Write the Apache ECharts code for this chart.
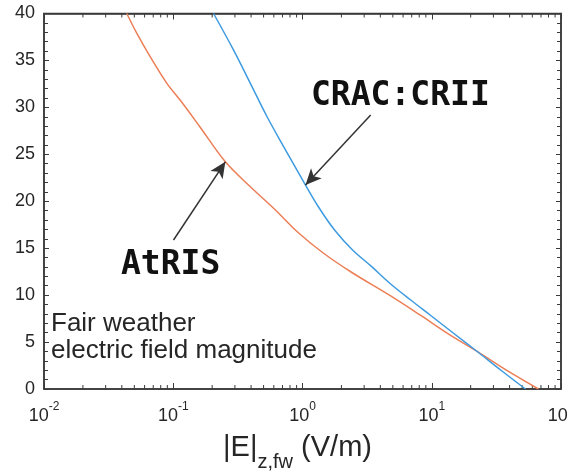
<!DOCTYPE html>
<html>
<head>
<meta charset="utf-8">
<script src="https://cdn.jsdelivr.net/npm/echarts@6/dist/echarts.min.js"></script>
<style>
  html, body { margin: 0; padding: 0; background: #fff; }
  #chart { width: 567px; height: 473px; }
</style>
</head>
<body>
<div id="chart"></div>
<script>
// AtRIS profile: altitude (km) and fair-weather field magnitude (V/m)
const atrisAlt = [40.0, 37.88, 35.4, 32.56, 30.78, 28.02, 24.2, 21.54, 19.07, 16.72, 14.54, 12.49, 9.91, 7.83, 5.70, 3.97, 1.98, 0];
const atrisE   = [0.0437, 0.0523, 0.0663, 0.0893, 0.113, 0.159, 0.253, 0.395, 0.617, 0.915, 1.43, 2.36, 4.81, 8.22, 14.0, 22.6, 38.1, 66.9];

// CRAC:CRII profile
const cracAlt = [40.0, 36.1, 32.56, 29.0, 25.8, 21.73, 19.39, 16.94, 14.81, 13.03, 11.19, 9.48, 7.83, 6.18, 3.97, 2.0, 0];
const cracE   = [0.205, 0.293, 0.395, 0.532, 0.716, 1.055, 1.33, 1.77, 2.44, 3.43, 4.81, 6.87, 9.82, 14.0, 22.6, 34.3, 53.1];

// Axis ranges and tick values
const xMin = 0.01, xMax = 100;
const yMin = 0, yMax = 40, yStep = 5;
const xDecades = [0.01, 0.1, 1, 10];
const minorMultipliers = [2, 3, 4, 5, 6, 7, 8, 9];

// Annotation arrows: [tail, head] in data coordinates
const cracArrow = [[3.37, 29.18], [1.055, 21.73]];
const atrisArrow = [[0.1005, 15.87], [0.253, 24.2]];

const pairs = (xs, ys) => xs.map((x, i) => [x, ys[i]]);
const xMinorTicks = [];
xDecades.forEach(d => minorMultipliers.forEach(m => xMinorTicks.push([d * m, yMin])));

const frameColor = '#3a3a3a';
const textColor = '#262626';
const sans = '"Liberation Sans", Arial, sans-serif';
const mono = '"DejaVu Sans Mono", monospace';
const tickStyle = { stroke: frameColor, lineWidth: 1 };

const chart = echarts.init(document.getElementById('chart'));

const textGraphics = [
  { type: 'text', left: 311, top: 80, style: { text: 'CRAC:CRII', font: 'bold 33px ' + mono, fill: '#111111' } },
  { type: 'text', left: 121, top: 249, style: { text: 'AtRIS', font: 'bold 33px ' + mono, fill: '#111111' } },
  { type: 'text', left: 51, top: 311, style: { text: 'Fair weather', font: '26px ' + sans, fill: textColor } },
  { type: 'text', left: 51, top: 338, style: { text: 'electric field magnitude', font: '26px ' + sans, fill: textColor } }
];

const xAxisLine = { show: true, lineStyle: { color: frameColor, width: 1.5 } };
const yTick = { show: true, inside: true, length: 5, lineStyle: { color: frameColor, width: 1 } };
const yMinor = { show: true, splitNumber: 5, length: 4, lineStyle: { color: frameColor, width: 1 } };

const option = {
  animation: false,
  grid: {
    left: 44, right: 6, top: 13.5, bottom: 84,
    outerBoundsMode: 'none',
    show: true, borderColor: frameColor, borderWidth: 1.5
  },
  xAxis: [
    {
      type: 'log', min: xMin, max: xMax,
      axisLine: xAxisLine,
      axisTick: { show: true, inside: true, length: 6, lineStyle: { color: frameColor, width: 1 } },
      splitLine: { show: false },
      axisLabel: {
        show: true, margin: 12,
        formatter: v => '{b|10}{s|' + Math.round(Math.log10(v)) + '}',
        rich: {
          b: { fontFamily: sans, fontSize: 18, color: textColor, lineHeight: 24, verticalAlign: 'bottom' },
          s: { fontFamily: sans, fontSize: 12, color: textColor, lineHeight: 14, verticalAlign: 'top' }
        }
      },
      name: '{a||E|}{sub|z,fw}{a| (V/m)}',
      nameLocation: 'middle',
      nameGap: 44,
      nameTextStyle: {
        padding: [0, 10, 0, 0],
        rich: {
          a: { fontFamily: sans, fontSize: 29, color: textColor, lineHeight: 36, verticalAlign: 'top' },
          sub: { fontFamily: sans, fontSize: 20, color: textColor, lineHeight: 36, verticalAlign: 'bottom', padding: [0, 0, -3, 0] }
        }
      }
    },
    {
      // mirrored top edge
      type: 'log', min: xMin, max: xMax, position: 'top',
      axisLine: { show: true, onZero: false, lineStyle: { color: frameColor, width: 1.5 } },
      axisTick: { show: true, inside: true, length: 6, lineStyle: { color: frameColor, width: 1 } },
      axisLabel: { show: false },
      splitLine: { show: false }
    }
  ],
  yAxis: [
    {
      type: 'value', min: yMin, max: yMax, interval: yStep,
      axisLine: { show: true, lineStyle: { color: frameColor, width: 1.5 } },
      axisTick: yTick, minorTick: yMinor,
      splitLine: { show: false },
      axisLabel: { show: true, margin: 9, fontFamily: sans, fontSize: 18, color: textColor }
    },
    {
      // mirrored right edge
      type: 'value', min: yMin, max: yMax, interval: yStep, position: 'right',
      axisLine: { show: true, onZero: false, lineStyle: { color: frameColor, width: 1.5 } },
      axisTick: yTick, minorTick: yMinor,
      splitLine: { show: false },
      axisLabel: { show: false }
    }
  ],
  series: [
    {
      name: 'AtRIS', type: 'line',
      data: pairs(atrisE, atrisAlt),
      showSymbol: false, smooth: 0.35,
      lineStyle: { color: '#ec7f57', width: 1.5 },
      markLine: {
        silent: true, symbol: ['none', 'arrow'], symbolSize: [11, 16],
        lineStyle: { color: '#333333', width: 1.5, type: 'solid' },
        label: { show: false },
        data: [[{ coord: atrisArrow[0] }, { coord: atrisArrow[1] }]]
      }
    },
    {
      name: 'CRAC:CRII', type: 'line',
      data: pairs(cracE, cracAlt),
      showSymbol: false, smooth: 0.35,
      lineStyle: { color: '#3f9be0', width: 1.5 },
      markLine: {
        silent: true, symbol: ['none', 'arrow'], symbolSize: [11, 16],
        lineStyle: { color: '#333333', width: 1.5, type: 'solid' },
        label: { show: false },
        data: [[{ coord: cracArrow[0] }, { coord: cracArrow[1] }]]
      }
    },
    {
      // logarithmic minor ticks (2..9 per decade) on the bottom and top edges
      name: 'xMinorTicks', type: 'custom', silent: true,
      data: xMinorTicks,
      renderItem: (params, api) => {
        const p = api.coord([api.value(0), yMin]);
        const top = api.coord([api.value(0), yMax])[1];
        return {
          type: 'group',
          children: [
            { type: 'line', shape: { x1: p[0], y1: p[1], x2: p[0], y2: p[1] - 4 }, style: tickStyle },
            { type: 'line', shape: { x1: p[0], y1: top, x2: p[0], y2: top + 4 }, style: tickStyle }
          ]
        };
      }
    }
  ],
  graphic: textGraphics
};

chart.setOption(option);
</script>
</body>
</html>
